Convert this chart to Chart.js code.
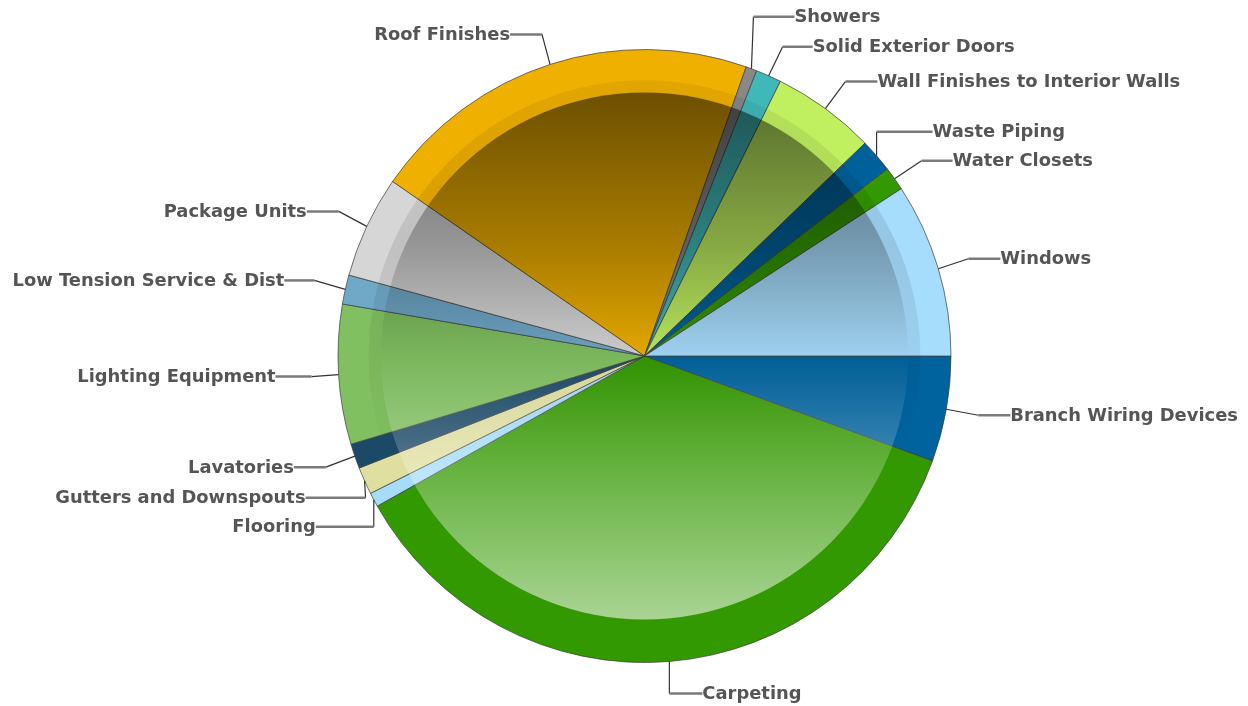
<!DOCTYPE html>
<html lang="en">
<head>
  <meta charset="UTF-8">
  <title>Cost Breakdown</title>
  <script src="https://cdn.jsdelivr.net/npm/chart.js"></script>
  <style>
    * {
      box-sizing: border-box;
      margin: 0;
      padding: 0;
    }

    body {
      background-color: #ffffff;
      width: 1248px;
      height: 706px;
      overflow: hidden;
    }

    #wrap {
      width: 1248px;
      height: 706px;
    }
  </style>
</head>
<body>

<div id="wrap">
  <canvas id="pieChart" width="1248" height="706"></canvas>
</div>

<script>
  // slices, clockwise from 3 o'clock
  const categories = [
    'Branch Wiring Devices', 'Carpeting', 'Flooring', 'Gutters and Downspouts',
    'Lavatories', 'Lighting Equipment', 'Low Tension Service & Dist', 'Package Units',
    'Roof Finishes', 'Showers', 'Solid Exterior Doors', 'Wall Finishes to Interior Walls',
    'Waste Piping', 'Water Closets', 'Windows'
  ];
  // share of total, %
  const shares = [5.56, 36.3, 0.75, 1.44, 1.31, 7.36, 1.54, 5.39, 20.74, 0.58, 1.35, 5.47, 1.78, 1.25, 9.19];

  const sliceColors = [
    '#00639e', '#339900', '#a6dcfa', '#dfe0a0', '#1b4a68', '#80c060', '#70a8c8', '#d6d6d6',
    '#f0b000', '#888888', '#40b8b8', '#c0f060', '#006099', '#339900', '#a6dcfc'
  ];

  // label leader: offset of the elbow from the slice edge, then horizontal run
  const labelOffsets = [
    [32, 6, 32], [0, 32, 33], [0, 27, 58], [1, 17, 60], [-29, 11, 32],
    [-27, 2, 36], [-31, -9, 30], [-28, -15, 32], [-8, -30, 32], [2, -52, 41],
    [14, -29, 30], [20, -27, 32], [0, -24, 56], [27, -18, 31], [30, -10, 32]
  ];

  // two glass discs: a faint wide one, then the main dark-top / light-bottom one
  const glassPlugin = {
    id: 'glass',
    afterDatasetsDraw(chart) {
      const arc = chart.getDatasetMeta(0).data[0];
      const { x, y, outerRadius } = arc.getProps(['x', 'y', 'outerRadius'], true);
      const ctx = chart.ctx;

      const disc = (r, stops) => {
        const g = ctx.createLinearGradient(0, y - r, 0, y + r);
        stops.forEach(s => g.addColorStop(s[0], s[1]));
        ctx.save();
        ctx.beginPath();
        ctx.arc(x, y, r, 0, Math.PI * 2);
        ctx.fillStyle = g;
        ctx.fill();
        ctx.restore();
      };

      disc(outerRadius * 0.9, [
        [0, 'rgba(0,0,0,0.06)'],
        [0.3, 'rgba(0,0,0,0.1)'],
        [0.7, 'rgba(0,0,0,0)'],
        [1, 'rgba(0,0,0,0)']
      ]);
      disc(outerRadius * 0.86, [
        [0, 'rgba(0,0,0,0.52)'],
        [0.5, 'rgba(0,0,0,0)'],
        [0.5, 'rgba(255,255,255,0)'],
        [1, 'rgba(255,255,255,0.58)']
      ]);
    }
  };

  const labelPlugin = {
    id: 'outsideLabels',
    afterDraw(chart) {
      const ctx = chart.ctx;
      const meta = chart.getDatasetMeta(0);
      ctx.save();
      ctx.font = 'bold 17.9px "DejaVu Sans", sans-serif';
      ctx.textBaseline = 'middle';
      meta.data.forEach((arc, i) => {
        const p = arc.getProps(['x', 'y', 'startAngle', 'endAngle', 'outerRadius'], true);
        const mid = (p.startAngle + p.endAngle) / 2;
        const ex = p.x + Math.cos(mid) * p.outerRadius;
        const ey = p.y + Math.sin(mid) * p.outerRadius;
        const [dx, dy, len] = labelOffsets[i];
        const kx = ex + dx, ky = ey + dy;
        const dir = Math.cos(mid) >= 0 ? 1 : -1;

        ctx.strokeStyle = '#333';
        ctx.lineWidth = 1.2;
        ctx.beginPath();
        ctx.moveTo(ex, ey);
        ctx.lineTo(kx, ky);
        ctx.stroke();

        ctx.strokeStyle = '#7a7a7a';
        ctx.lineWidth = 2.5;
        ctx.beginPath();
        ctx.moveTo(kx, ky);
        ctx.lineTo(kx + dir * len, ky);
        ctx.stroke();

        ctx.fillStyle = '#555555';
        ctx.textAlign = dir > 0 ? 'left' : 'right';
        ctx.fillText(categories[i], kx + dir * len, ky + 1);
      });
      ctx.restore();
    }
  };

  new Chart(document.getElementById('pieChart'), {
    type: 'pie',
    data: {
      labels: categories,
      datasets: [{
        data: shares,
        backgroundColor: sliceColors,
        borderColor: 'rgba(60,60,60,0.7)',
        borderWidth: 1,
        hoverOffset: 0
      }]
    },
    options: {
      responsive: false,
      animation: false,
      rotation: 90,
      layout: { padding: { top: 49, bottom: 43, left: 300, right: 259 } },
      plugins: {
        legend: { display: false },
        tooltip: { enabled: false }
      }
    },
    plugins: [glassPlugin, labelPlugin]
  });
</script>

</body>
</html>
